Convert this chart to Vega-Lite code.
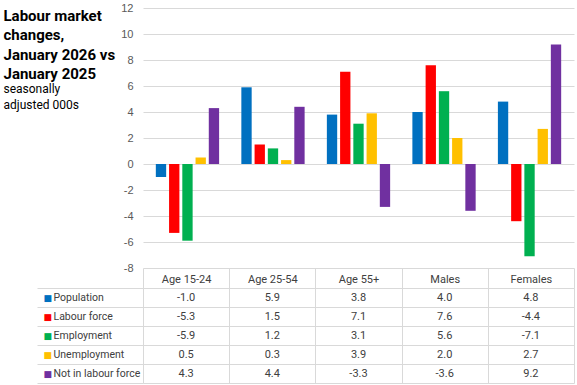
{
  "$schema": "https://vega.github.io/schema/vega-lite/v6.json",
  "padding": {"left": 3, "top": 2, "right": 2, "bottom": 2},
  "background": "white",
  "config": {
    "font": "Roboto",
    "view": {"stroke": null},
    "axis": {"labelFont": "Roboto", "labelFontSize": 11, "labelColor": "#404040", "gridColor": "#D9D9D9", "tickColor": "#D9D9D9", "domainColor": "#D9D9D9"}
  },
  "data": {"values": [
    {"group": "Age 15-24", "series": "Population", "value": -1.0},
    {"group": "Age 15-24", "series": "Labour force", "value": -5.3},
    {"group": "Age 15-24", "series": "Employment", "value": -5.9},
    {"group": "Age 15-24", "series": "Unemployment", "value": 0.5},
    {"group": "Age 15-24", "series": "Not in labour force", "value": 4.3},
    {"group": "Age 25-54", "series": "Population", "value": 5.9},
    {"group": "Age 25-54", "series": "Labour force", "value": 1.5},
    {"group": "Age 25-54", "series": "Employment", "value": 1.2},
    {"group": "Age 25-54", "series": "Unemployment", "value": 0.3},
    {"group": "Age 25-54", "series": "Not in labour force", "value": 4.4},
    {"group": "Age 55+", "series": "Population", "value": 3.8},
    {"group": "Age 55+", "series": "Labour force", "value": 7.1},
    {"group": "Age 55+", "series": "Employment", "value": 3.1},
    {"group": "Age 55+", "series": "Unemployment", "value": 3.9},
    {"group": "Age 55+", "series": "Not in labour force", "value": -3.3},
    {"group": "Males", "series": "Population", "value": 4.0},
    {"group": "Males", "series": "Labour force", "value": 7.6},
    {"group": "Males", "series": "Employment", "value": 5.6},
    {"group": "Males", "series": "Unemployment", "value": 2.0},
    {"group": "Males", "series": "Not in labour force", "value": -3.6},
    {"group": "Females", "series": "Population", "value": 4.8},
    {"group": "Females", "series": "Labour force", "value": -4.4},
    {"group": "Females", "series": "Employment", "value": -7.1},
    {"group": "Females", "series": "Unemployment", "value": 2.7},
    {"group": "Females", "series": "Not in labour force", "value": 9.2}
  ]},
  "spacing": 20,
  "bounds": "flush",
  "vconcat": [
    {
      "width": 431,
      "height": 260,
      "layer": [
        {
          "mark": {"type": "bar"},
          "encoding": {
            "x": {"field": "group", "type": "nominal", "sort": ["Age 15-24", "Age 25-54", "Age 55+", "Males", "Females"], "scale": {"paddingInner": 0.26, "paddingOuter": 0.15}, "axis": null},
            "xOffset": {"field": "series", "type": "nominal", "sort": ["Population", "Labour force", "Employment", "Unemployment", "Not in labour force"], "scale": {"paddingInner": 0.22}},
            "y": {"field": "value", "type": "quantitative", "scale": {"domain": [-8, 12], "nice": false},
              "axis": {"orient": "left", "values": [-8, -6, -4, -2, 0, 2, 4, 6, 8, 10, 12], "labelExpr": "replace(datum.label, '−', '-')", "grid": true, "domain": false, "ticks": false, "labelPadding": 10, "labelFont": "Liberation Sans", "labelColor": "#595959",
                "title": ["Labour market", "changes,", "January 2026 vs", "January 2025"], "titleAngle": 0, "titleAlign": "left", "titleBaseline": "top", "titleX": -140, "titleY": 0, "titleFont": "Roboto", "titleFontSize": 15, "titleFontWeight": "bold", "titleLineHeight": 19.5, "titleColor": "#000000"}},
            "color": {"field": "series", "type": "nominal", "scale": {"domain": ["Population", "Labour force", "Employment", "Unemployment", "Not in labour force"], "range": ["#0070C0", "#FF0000", "#00B050", "#FFC000", "#7030A0"]}, "legend": null}
          }
        },
        {
          "mark": {"type": "rule", "opacity": 0},
          "encoding": {
            "y": {"datum": 0, "type": "quantitative", "scale": {"domain": [-8, 12], "nice": false},
              "axis": {"orient": "left", "labels": false, "ticks": false, "domain": false, "grid": false,
                "title": ["seasonally", "adjusted 000s"], "titleAngle": 0, "titleAlign": "left", "titleBaseline": "top", "titleX": -140, "titleY": 75, "titleFont": "Roboto", "titleFontSize": 12, "titleFontWeight": "normal", "titleLineHeight": 16, "titleColor": "#000000"}}
          }
        }
      ],
      "resolve": {"scale": {"y": "independent"}, "axis": {"y": "independent"}}
    },
    {
      "width": 431,
      "height": 95,
      "transform": [{"calculate": "replace(format(datum.value, '.1f'), '−', '-')", "as": "label"}],
      "layer": [
        {
          "mark": {"type": "text", "fontSize": 11, "color": "#404040", "font": "Roboto"},
          "encoding": {
            "x": {"field": "group", "type": "nominal", "sort": ["Age 15-24", "Age 25-54", "Age 55+", "Males", "Females"], "scale": {"type": "band", "padding": 0},
              "axis": {"orient": "top", "title": null, "labelAngle": 0, "tickBand": "extent", "tickSize": 20, "labelPadding": -11, "labelBaseline": "middle", "domain": true, "grid": true}},
            "y": {"field": "series", "type": "nominal", "sort": ["Population", "Labour force", "Employment", "Unemployment", "Not in labour force"], "scale": {"type": "band", "padding": 0},
              "axis": {"orient": "left", "title": null, "tickBand": "extent", "tickSize": 106, "labelAlign": "left", "labelPadding": -16, "labelFontSize": 10.5, "domain": false, "grid": true}},
            "text": {"field": "label", "type": "nominal"}
          }
        },
        {
          "mark": {"type": "text", "opacity": 0},
          "encoding": {
            "y": {"field": "series", "type": "nominal", "sort": ["Population", "Labour force", "Employment", "Unemployment", "Not in labour force"], "scale": {"type": "band", "padding": 0},
              "axis": {"orient": "left", "title": null, "ticks": false, "domain": false, "grid": false, "labelAlign": "left", "labelPadding": 100, "labelFontSize": 9, "labelFont": "DejaVu Sans", "labelExpr": "'■'",
                "labelColor": {"condition": [
                  {"test": "datum.value === 'Population'", "value": "#0070C0"},
                  {"test": "datum.value === 'Labour force'", "value": "#FF0000"},
                  {"test": "datum.value === 'Employment'", "value": "#00B050"},
                  {"test": "datum.value === 'Unemployment'", "value": "#FFC000"}
                ], "value": "#7030A0"}}},
            "text": {"value": ""}
          }
        }
      ],
      "resolve": {"scale": {"y": "independent"}, "axis": {"y": "independent"}}
    }
  ]
}
